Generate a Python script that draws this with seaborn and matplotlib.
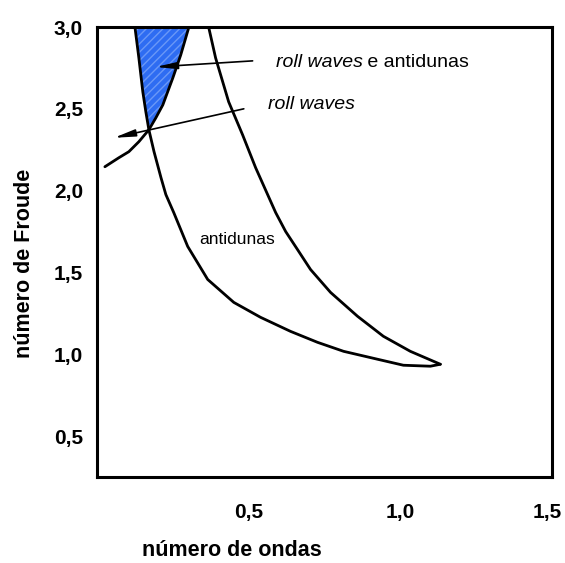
import matplotlib
matplotlib.use("Agg")
import matplotlib.pyplot as plt
import matplotlib.transforms as mtransforms
import seaborn as sns
import pandas as pd

# Curve A: left boundary of blue region, continuing as lower boundary of antidunas
curve_a_x = [0.125, 0.138, 0.151, 0.161, 0.171, 0.188, 0.211, 0.227, 0.253, 0.299,
             0.365, 0.451, 0.539, 0.638, 0.727, 0.813, 0.924, 1.010, 1.099, 1.132]
curve_a_y = [3.000, 2.811, 2.604, 2.482, 2.372, 2.238, 2.079, 1.976, 1.866, 1.659,
             1.457, 1.317, 1.226, 1.140, 1.073, 1.018, 0.970, 0.933, 0.927, 0.939]
# Curve B: upper/right boundary of antidunas
curve_b_x = [0.368, 0.391, 0.434, 0.480, 0.523, 0.589, 0.622, 0.661, 0.704, 0.770,
             0.859, 0.944, 1.033, 1.132]
curve_b_y = [3.000, 2.811, 2.543, 2.341, 2.140, 1.866, 1.750, 1.640, 1.518, 1.378,
             1.232, 1.110, 1.018, 0.939]
# Curve C: roll waves boundary
curve_c_x = [0.026, 0.072, 0.105, 0.138, 0.171, 0.194, 0.217, 0.250, 0.276, 0.303]
curve_c_y = [2.146, 2.201, 2.238, 2.299, 2.372, 2.445, 2.524, 2.689, 2.829, 3.000]

x_ticks = [0.5, 1.0, 1.5]
x_tick_labels = ["0,5", "1,0", "1,5"]
y_ticks = [0.5, 1.0, 1.5, 2.0, 2.5, 3.0]
y_tick_labels = ["0,5", "1,0", "1,5", "2,0", "2,5", "3,0"]

sns.set_style("white")
plt.rcParams["font.family"] = ["Liberation Sans", "DejaVu Sans"]
plt.rcParams["text.color"] = "black"
plt.rcParams["xtick.color"] = "black"
plt.rcParams["ytick.color"] = "black"
plt.rcParams["axes.labelcolor"] = "black"
plt.rcParams["hatch.linewidth"] = 1.0

fig = plt.figure(figsize=(5.65, 5.63), dpi=100)
ax = fig.add_axes([97/565, 1-477/563, (552-97)/565, (477-27)/563])

# blue region: between curve C and curve A above their intersection (index 4)
poly_x = curve_c_x[4:] + curve_a_x[:5]
poly_y = curve_c_y[4:] + curve_a_y[:5]
ax.fill(poly_x, poly_y, facecolor="#2e6cf2", edgecolor="#6a98f7", hatch="////",
        linewidth=0, zorder=1)

lw = 2.0
for xs, ys in [(curve_a_x, curve_a_y), (curve_b_x, curve_b_y), (curve_c_x, curve_c_y)]:
    df = pd.DataFrame({"x": xs, "y": ys})
    sns.lineplot(data=df, x="x", y="y", sort=False, color="black", linewidth=lw,
                 ax=ax, zorder=3, solid_joinstyle="round", solid_capstyle="round")

ax.set_xlim(0, 1.5)
ax.set_ylim(0.25, 3.0)
ax.set_xticks(x_ticks)
ax.set_xticklabels(x_tick_labels, fontsize=15, fontweight="bold")
ax.set_yticks(y_ticks)
ax.set_yticklabels(y_tick_labels, fontsize=15, fontweight="bold")
ax.tick_params(axis="both", direction="out", length=9, width=1.8, color="black")
ax.tick_params(axis="x", pad=10)
ax.tick_params(axis="y", pad=1)
for s in ax.spines.values():
    s.set_linewidth(2.2)
    s.set_color("black")

# keep the last x tick label inside the figure edge
last = ax.get_xticklabels()[-1]
last.set_transform(last.get_transform() +
                   mtransforms.ScaledTranslation(-5/100, 0, fig.dpi_scale_trans))

ax.set_xlabel("número de ondas", fontsize=15.5, fontweight="bold")
ax.set_ylabel("número de Froude", fontsize=15.5, fontweight="bold")
ax.xaxis.set_label_coords((232-97)/455, (477-551)/450)
ax.xaxis.label.set_va("center")
ax.yaxis.set_label_coords((25-97)/455, (477-263)/450)
ax.yaxis.label.set_va("center")

# arrows
arrow_style = "-|>,head_length=0.9,head_width=0.15"
ax.annotate("", xy=(0.194, 2.756), xytext=(0.513, 2.793),
            arrowprops=dict(arrowstyle=arrow_style, color="black", lw=1.2,
                            mutation_scale=14, shrinkA=0, shrinkB=0), zorder=4)
ax.annotate("", xy=(0.056, 2.323), xytext=(0.484, 2.500),
            arrowprops=dict(arrowstyle=arrow_style, color="black", lw=1.2,
                            mutation_scale=14, shrinkA=0, shrinkB=0), zorder=4)

# labels
t1 = ax.text((275-96)/304, 3-(63-27)/164, "roll waves", fontsize=14, style="italic",
             va="center", ha="left")
ax.annotate(" e antidunas", xy=(1, 0.5), xycoords=t1, va="center", ha="left", fontsize=14)
ax.text((267-96)/304, 3-(105-27)/164, "roll waves", fontsize=14, style="italic",
        va="center", ha="left")
ax.text((236-96)/304, 3-(240-27)/164, "antidunas", fontsize=12.5, va="center", ha="center")

fig.savefig("out.png", dpi=100)
